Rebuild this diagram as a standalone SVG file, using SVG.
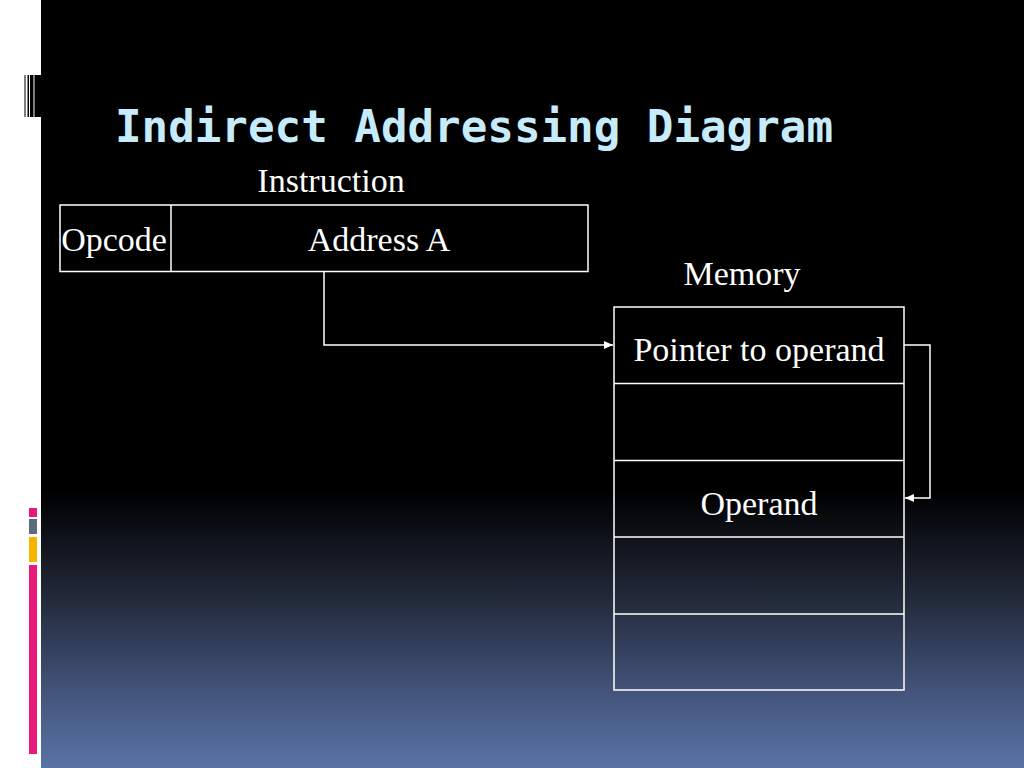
<svg xmlns="http://www.w3.org/2000/svg" width="1024" height="768" viewBox="0 0 1024 768">
  <defs>
    <linearGradient id="bg" x1="0" y1="0" x2="0" y2="768" gradientUnits="userSpaceOnUse">
      <stop offset="0" stop-color="#000000"/>
      <stop offset="0.64" stop-color="#000000"/>
      <stop offset="0.78" stop-color="#222a3a"/>
      <stop offset="0.91" stop-color="#46577f"/>
      <stop offset="1" stop-color="#5874a4"/>
    </linearGradient>
    <marker id="arr" markerWidth="10" markerHeight="8" refX="9" refY="4" orient="auto" markerUnits="userSpaceOnUse">
      <path d="M0,0 L9,4 L0,8 Z" fill="#ffffff"/>
    </marker>
    <style>
      .box { fill: none; stroke: #ffffff; stroke-width: 1.5; }
      .lbl { font-family: "Liberation Serif", "Times New Roman", serif; font-size: 34px; fill: #ffffff; }
      .conn { fill: none; stroke: #ffffff; stroke-width: 1.5; }
    </style>
  </defs>

  <!-- background -->
  <rect x="0" y="0" width="1024" height="768" fill="#ffffff"/>
  <rect x="41" y="0" width="983" height="768" fill="url(#bg)"/>

  <!-- decorative bars top-left -->
  <g id="deco-top">
    <rect x="24.5" y="75" width="1" height="42" fill="#000000"/>
    <rect x="27.5" y="75" width="1.5" height="42" fill="#000000"/>
    <rect x="30" y="75" width="3.5" height="42" fill="#000000"/>
    <rect x="33.5" y="75" width="1.2" height="42" fill="#888888"/>
    <rect x="34.7" y="75" width="6.3" height="42" fill="#000000"/>
  </g>

  <!-- decorative bars bottom-left -->
  <g id="deco-bottom">
    <rect x="29" y="508" width="8" height="9" fill="#e8197a"/>
    <rect x="29" y="519" width="8" height="15" fill="#5a6a80"/>
    <rect x="29" y="537" width="8" height="25" fill="#f5b400"/>
    <rect x="29" y="565" width="8" height="189" fill="#e8197a"/>
  </g>

  <!-- title -->
  <text id="title" x="115" y="142" font-family="'DejaVu Sans Mono', 'Liberation Mono', monospace" font-weight="bold" font-size="44" fill="#c6ecfc" textLength="718" lengthAdjust="spacingAndGlyphs">Indirect Addressing Diagram</text>

  <!-- instruction -->
  <g id="instruction">
    <text class="lbl" x="331" y="192" text-anchor="middle">Instruction</text>
    <rect class="box" x="60" y="205" width="528" height="66.5"/>
    <line class="box" x1="171" y1="205" x2="171" y2="271.5"/>
    <text class="lbl" x="114" y="251" text-anchor="middle">Opcode</text>
    <text class="lbl" x="379" y="251" text-anchor="middle">Address A</text>
  </g>

  <!-- memory -->
  <g id="memory">
    <text class="lbl" x="742" y="285" text-anchor="middle">Memory</text>
    <rect class="box" x="614" y="307" width="290" height="383"/>
    <line class="box" x1="614" y1="383.5" x2="904" y2="383.5"/>
    <line class="box" x1="614" y1="460.5" x2="904" y2="460.5"/>
    <line class="box" x1="614" y1="537" x2="904" y2="537"/>
    <line class="box" x1="614" y1="614" x2="904" y2="614"/>
    <text class="lbl" x="759" y="361" text-anchor="middle">Pointer to operand</text>
    <text class="lbl" x="759" y="515" text-anchor="middle">Operand</text>
  </g>

  <!-- connectors -->
  <g id="connectors">
    <path class="conn" d="M324,271.5 L324,345 L613,345" marker-end="url(#arr)"/>
    <path class="conn" d="M904,345 L930,345 L930,498 L905,498" marker-end="url(#arr)"/>
  </g>
</svg>
